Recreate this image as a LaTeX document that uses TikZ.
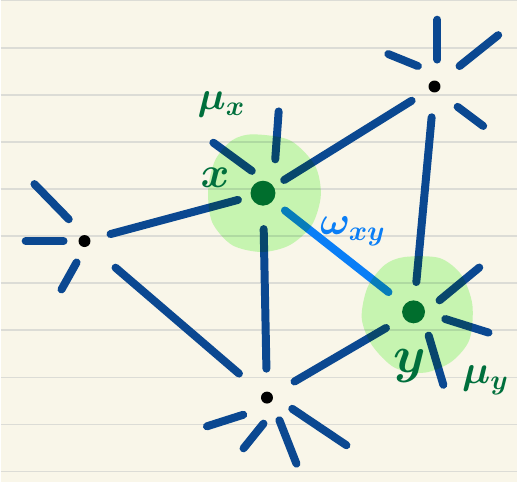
\RequirePackage{fix-cm}
\documentclass[tikz,border=0pt]{standalone}
\usepackage{xcolor}
\usepackage{tikz}
\usetikzlibrary{calc}

\definecolor{paper}{HTML}{F9F6E9}
\definecolor{ruleline}{HTML}{DCDCD6}
\definecolor{edgeblue}{HTML}{0B4891}
\definecolor{wblue}{HTML}{0A7EF6}
\definecolor{nodegreen}{HTML}{006F3C}
\definecolor{halogreen}{HTML}{CBFDC1}

\begin{document}
\begin{tikzpicture}[x=1pt, y=-1pt,
        ruled/.style={ruleline, line width=1.5pt},
        edge/.style={edgeblue, line width=8pt, line cap=round},
        stub/.style={edge, shorten <=4pt, shorten >=4pt},
        vertex/.style={circle, fill=black, inner sep=0pt, minimum size=12pt},
        gvertex/.style={circle, fill=nodegreen, inner sep=0pt, minimum size=25pt},
        halo/.style={fill=halogreen, blend mode=multiply},
        lab/.style={text=nodegreen, inner sep=0pt, font=\fontsize{40}{40}\selectfont\boldmath}]
        % Paper
        \fill[paper] (0,0) rectangle (518,483);
        \draw[ruled] (0,0) -- (518,0);
        \draw[ruled] (0,47.2) -- (518,47.2);
        \draw[ruled] (0,94.4) -- (518,94.4);
        \draw[ruled] (0,141.6) -- (518,141.6);
        \draw[ruled] (0,188.8) -- (518,188.8);
        \draw[ruled] (0,236) -- (518,236);
        \draw[ruled] (0,283.2) -- (518,283.2);
        \draw[ruled] (0,330.4) -- (518,330.4);
        \draw[ruled] (0,377.6) -- (518,377.6);
        \draw[ruled] (0,424.8) -- (518,424.8);
        \draw[ruled] (0,472) -- (518,472);

        % Vertices
        \node[vertex] (L) at (84,241) {};
        \node[vertex] (T) at (435,86) {};
        \node[vertex] (B) at (267,398) {};
        \node[gvertex] (X) at (263,193) {};
        \node[gvertex, minimum size=23pt] (Y) at (414,312) {};

        % Edges
        \draw[edge, shorten <=27pt, shorten >=26pt] (L.center) -- (X.center);
        \draw[edge, shorten <=41pt, shorten >=37pt] (L.center) -- (B.center);
        \draw[edge, shorten <=25pt, shorten >=27pt] (X.center) -- (T.center);
        \draw[edge, shorten <=36pt, shorten >=29pt] (X.center) -- (B.center);
        \draw[edge, shorten <=31pt, shorten >=30pt] (T.center) -- (Y.center);
        \draw[edge, shorten <=32pt, shorten >=32pt] (B.center) -- (Y.center);
        \draw[edge, wblue, shorten <=28pt, shorten >=32pt] (X.center) -- (Y.center);

        % Loose ends
        \draw[stub] ($(L)+(-53,-60)$) -- ($(L)+(-13,-19)$);
        \draw[stub] ($(L)+(-63,0)$) -- ($(L)+(-17,0)$);
        \draw[stub] ($(L)+(-6,18)$) -- ($(L)+(-25,52)$);
        \draw[stub] ($(X)+(-53,-53)$) -- ($(X)+(-8,-20)$);
        \draw[stub] ($(X)+(16,-86)$) -- ($(X)+(12,-30)$);
        \draw[stub] ($(T)+(-50,-34)$) -- ($(T)+(-13,-19)$);
        \draw[stub] ($(T)+(3,-71)$) -- ($(T)+(3,-23)$);
        \draw[stub] ($(T)+(67,-54)$) -- ($(T)+(22,-18)$);
        \draw[stub] ($(T)+(20,18)$) -- ($(T)+(52,42)$);
        \draw[stub] ($(Y)+(23,-9)$) -- ($(Y)+(69,-47)$);
        \draw[stub] ($(Y)+(28,6)$) -- ($(Y)+(79,22)$);
        \draw[stub] ($(Y)+(14,20)$) -- ($(Y)+(31,77)$);
        \draw[stub] ($(B)+(-64,30)$) -- ($(B)+(-20,16)$);
        \draw[stub] ($(B)+(-26,54)$) -- ($(B)+(-1,23)$);
        \draw[stub] ($(B)+(11,19)$) -- ($(B)+(31,70)$);
        \draw[stub] ($(B)+(22,9)$) -- ($(B)+(83,50)$);

        % Halos
        \begin{scope}[shift={(X)}]
            \fill[halo] plot[smooth cycle] coordinates {(-10,-59) (27,-53) (52,-28) (58,2) (49,32) (27,52) (-1,59) (-31,52) (-51,29) (-55,-3) (-48,-33) (-31,-53)};
        \end{scope}
        \begin{scope}[shift={(Y)}]
            \fill[halo] plot[smooth cycle] coordinates {(-9,-55) (26,-54) (48,-37) (59,-7) (56,28) (38,50) (11,61) (-19,56) (-42,33) (-52,6) (-46,-25) (-29,-47)};
        \end{scope}

        % Labels
        \node[lab] (mux) at (221,104) {$\mu_x$};
        \node[lab, font=\fontsize{44}{44}\selectfont\boldmath] (xlab) at (215,178) {$x$};
        \node[lab, font=\fontsize{52}{52}\selectfont\boldmath] (ylab) at (410,366) {$y$};
        \node[lab] (muy) at (486,381) {$\mu_y$};
        \node[lab, text=wblue] (wxy) at (353,231) {$\omega_{xy}$};
    \end{tikzpicture}
\end{document}
